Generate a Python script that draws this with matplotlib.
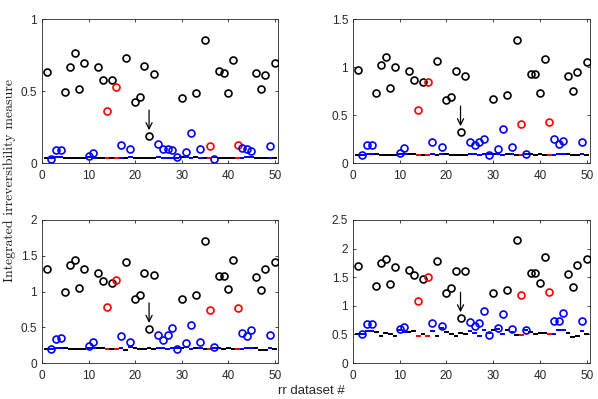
import matplotlib
matplotlib.use("Agg")
import matplotlib.pyplot as plt
import numpy as np

datasets = list(range(1, 51))

# category per dataset: k = black, r = red, b = blue
categories = list(
    "kbbbkkkkkb" "bkkrkrbkbk" "kkkkbbbbbk" "bbkbkrbkkk" "krbbbkkkbk"
)

measure_1 = [0.632, 0.028, 0.093, 0.090, 0.495, 0.664, 0.766, 0.516, 0.694, 0.050,
             0.070, 0.667, 0.574, 0.361, 0.574, 0.530, 0.125, 0.727, 0.097, 0.424,
             0.458, 0.674, 0.188, 0.620, 0.130, 0.100, 0.097, 0.090, 0.042, 0.451,
             0.076, 0.210, 0.484, 0.100, 0.856, 0.118, 0.028, 0.641, 0.627, 0.488,
             0.713, 0.127, 0.104, 0.097, 0.081, 0.623, 0.516, 0.613, 0.116, 0.692]

measure_2 = [0.969, 0.080, 0.184, 0.184, 0.726, 1.020, 1.104, 0.785, 0.997, 0.100,
             0.153, 0.955, 0.868, 0.556, 0.847, 0.844, 0.215, 1.059, 0.167, 0.656,
             0.688, 0.955, 0.323, 0.906, 0.219, 0.184, 0.222, 0.247, 0.080, 0.663,
             0.149, 0.354, 0.708, 0.170, 1.278, 0.403, 0.097, 0.930, 0.924, 0.733,
             1.080, 0.424, 0.247, 0.201, 0.229, 0.910, 0.750, 0.944, 0.215, 1.049]

measure_3 = [1.310, 0.194, 0.333, 0.343, 0.991, 1.375, 1.435, 1.042, 1.315, 0.236,
             0.300, 1.259, 1.153, 0.778, 1.116, 1.162, 0.375, 1.407, 0.296, 0.898,
             0.954, 1.259, 0.481, 1.227, 0.389, 0.324, 0.389, 0.486, 0.190, 0.894,
             0.273, 0.537, 0.954, 0.292, 1.708, 0.736, 0.227, 1.222, 1.222, 1.037,
             1.444, 0.773, 0.421, 0.375, 0.458, 1.208, 1.014, 1.310, 0.394, 1.417]

measure_4 = [1.690, 0.511, 0.684, 0.684, 1.350, 1.753, 1.810, 1.374, 1.672, 0.586,
             0.638, 1.626, 1.546, 1.086, 1.471, 1.511, 0.701, 1.787, 0.649, 1.224,
             1.316, 1.603, 0.787, 1.603, 0.724, 0.649, 0.701, 0.908, 0.494, 1.224,
             0.609, 0.851, 1.282, 0.586, 2.155, 1.195, 0.580, 1.575, 1.575, 1.391,
             1.845, 1.236, 0.730, 0.730, 0.874, 1.557, 1.328, 1.713, 0.730, 1.822]

surrogate_1 = [0.037, 0.038, 0.040, 0.039, 0.037, 0.036, 0.037, 0.036, 0.036, 0.039,
               0.038, 0.038, 0.037, 0.034, 0.036, 0.034, 0.038, 0.036, 0.041, 0.037,
               0.036, 0.035, 0.037, 0.036, 0.039, 0.038, 0.036, 0.038, 0.038, 0.039,
               0.040, 0.036, 0.039, 0.038, 0.035, 0.035, 0.040, 0.038, 0.036, 0.037,
               0.037, 0.036, 0.036, 0.039, 0.039, 0.037, 0.033, 0.034, 0.038, 0.036]

surrogate_2 = [0.088, 0.088, 0.092, 0.092, 0.090, 0.085, 0.088, 0.087, 0.085, 0.094,
               0.090, 0.089, 0.091, 0.085, 0.087, 0.085, 0.092, 0.084, 0.096, 0.089,
               0.087, 0.085, 0.088, 0.087, 0.092, 0.089, 0.085, 0.093, 0.089, 0.093,
               0.094, 0.087, 0.093, 0.090, 0.086, 0.086, 0.094, 0.090, 0.087, 0.089,
               0.088, 0.087, 0.087, 0.094, 0.093, 0.089, 0.082, 0.084, 0.092, 0.087]

surrogate_3 = [0.200, 0.202, 0.212, 0.212, 0.205, 0.190, 0.200, 0.198, 0.190, 0.215,
               0.205, 0.204, 0.210, 0.190, 0.198, 0.190, 0.212, 0.188, 0.222, 0.205,
               0.198, 0.190, 0.203, 0.198, 0.212, 0.205, 0.190, 0.214, 0.205, 0.214,
               0.218, 0.198, 0.214, 0.206, 0.192, 0.194, 0.216, 0.206, 0.198, 0.203,
               0.201, 0.198, 0.198, 0.216, 0.214, 0.203, 0.182, 0.188, 0.212, 0.198]

surrogate_4 = [0.50, 0.51, 0.56, 0.56, 0.55, 0.48, 0.52, 0.51, 0.48, 0.58,
               0.55, 0.54, 0.56, 0.48, 0.51, 0.48, 0.56, 0.47, 0.61, 0.54,
               0.51, 0.47, 0.53, 0.50, 0.56, 0.53, 0.48, 0.57, 0.53, 0.57,
               0.59, 0.51, 0.57, 0.54, 0.49, 0.49, 0.58, 0.54, 0.51, 0.53,
               0.52, 0.51, 0.51, 0.58, 0.57, 0.53, 0.45, 0.47, 0.56, 0.50]

y_limits = [1.0, 1.5, 2.0, 2.5]
marked_dataset = 23

x_ticks = [0, 10, 20, 30, 40, 50]
y_label = "Integrated irreversibility measure"
x_label = "rr dataset #"

color_map = {"k": (0, 0, 0), "r": (1, 0, 0), "b": (0, 0, 1)}
axis_gray = (0.15, 0.15, 0.15)

fig = plt.figure(figsize=(5.98, 3.99), dpi=100)
W, H = 598.0, 399.0
boxes = [(42, 19, 278, 163), (353, 19, 590, 163),
         (42, 220, 278, 363), (353, 220, 590, 363)]

measures = [measure_1, measure_2, measure_3, measure_4]
surrogates = [surrogate_1, surrogate_2, surrogate_3, surrogate_4]

for (x0, y0, x1, y1), meas, surr, ymax in zip(boxes, measures, surrogates, y_limits):
    ax = fig.add_axes([x0 / W, 1 - y1 / H, (x1 - x0) / W, (y1 - y0) / H])
    cols = [color_map[c] for c in categories]
    # surrogate bars near baseline
    for xi, s, c in zip(datasets, surr, cols):
        ax.errorbar([xi], [s], xerr=0.5, yerr=0.007 * ymax, fmt="none",
                    ecolor=c, elinewidth=1.4, capsize=0, zorder=2)
    # measure circles
    for xi, m, c in zip(datasets, meas, cols):
        ax.plot([xi], [m], linestyle="none", marker="o", markersize=5,
                markerfacecolor="none", markeredgecolor=c, markeredgewidth=1.2,
                zorder=3)
    # arrow on marked dataset
    mv = meas[marked_dataset - 1]
    tip = mv + 0.04 * ymax
    tail = tip + 0.14 * ymax
    ax.annotate("", xy=(marked_dataset, tip), xytext=(marked_dataset, tail),
                arrowprops=dict(arrowstyle="->", color="black", lw=0.9,
                                mutation_scale=11, shrinkA=0, shrinkB=0))
    ax.set_xlim(0, 50.7)
    ax.set_ylim(0, ymax)
    ax.set_xticks(x_ticks)
    yt = np.arange(0, ymax + 0.01, 0.5)
    ax.set_yticks(yt)
    ax.set_yticklabels([f"{v:g}" for v in yt])
    ax.tick_params(direction="in", length=2.5, width=0.6, colors=axis_gray,
                   labelsize=8.5, top=True, right=True)
    ax.tick_params(axis="x", pad=5)
    ax.tick_params(axis="y", pad=3.5)
    for lab in ax.get_xticklabels() + ax.get_yticklabels():
        lab.set_fontfamily("Liberation Sans")
    for sp in ax.spines.values():
        sp.set_color(axis_gray)
        sp.set_linewidth(0.6)

fig.text(10 / W, 1 - 180 / H, y_label, rotation=90, ha="center", va="center",
         fontsize=10, family="cmr10", color=(0.1, 0.1, 0.1))
fig.text(311 / W, 1 - 391.5 / H, x_label, ha="center", va="center",
         fontsize=9.5, family="Liberation Sans", color=axis_gray)

fig.savefig("out.png", dpi=100)
